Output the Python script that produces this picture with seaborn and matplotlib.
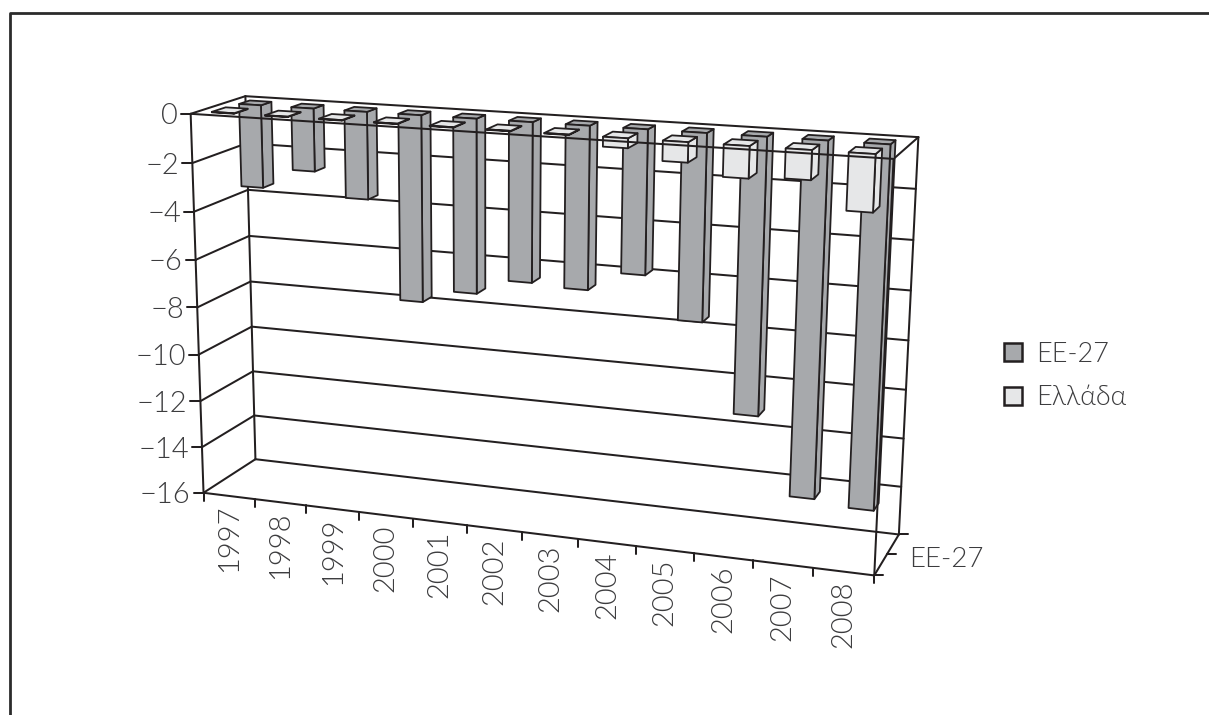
import numpy as np
import pandas as pd
import matplotlib
matplotlib.use("Agg")
import matplotlib.pyplot as plt
from matplotlib.patches import Polygon, Patch
import seaborn as sns

# ─────────────────────────────────────────
# DATA
# ─────────────────────────────────────────
years = [1997, 1998, 1999, 2000, 2001, 2002, 2003, 2004, 2005, 2006, 2007, 2008]
ee27 = [-3.44, -2.6, -3.6, -7.7, -7.15, -6.5, -6.6, -5.8, -7.5, -11.1, -14.25, -14.45]
greece = [-0.02, -0.02, -0.02, -0.02, -0.02, -0.02, -0.02, -0.38, -0.78, -1.23, -1.13, -2.18]
value_ticks = [0, -2, -4, -6, -8, -10, -12, -14, -16]
series_names = ["EE-27", "Ελλάδα"]

LINE = "#231f20"
TEXT = "#3c3c3e"
COLORS = ["#a7a9ac", "#e6e7e8"]
DEPTHS = [(0.60, 0.80), (0.15, 0.40)]
U_SHIFT = [0.0, -0.05]

sns.set_theme(style="white")
plt.rcParams["font.family"] = ["Lato", "Open Sans", "DejaVu Sans"]
plt.rcParams["font.weight"] = 300
plt.rcParams["axes.unicode_minus"] = True

# ─────────────────────────────────────────
# CAMERA: fit a perspective matrix to the box of the chart
# (u = category axis, v = value axis, w = depth) -> page pixels
# ─────────────────────────────────────────
anchors = [
    (0, 0, 0, 190, 114), (12, 0, 0, 895, 159), (0, -16, 0, 204, 493), (12, -16, 0, 873, 575),
    (0, 0, 1, 246, 96), (12, 0, 1, 917, 137), (0, -16, 1, 255, 459), (12, -16, 1, 900, 535),
    (3, -16, 0, 359, 512), (6, -16, 0, 522, 532), (9, -16, 0, 694, 553),
]
rows = []
for u, v, w, x, y in anchors:
    rows.append([u, v, w, 1, 0, 0, 0, 0, -x * u, -x * v, -x * w, -x])
    rows.append([0, 0, 0, 0, u, v, w, 1, -y * u, -y * v, -y * w, -y])
camera = np.linalg.svd(np.array(rows, dtype=float))[2][-1].reshape(3, 4)


def project(u, v, w):
    x, y, z = camera @ np.array([u, v, w, 1.0])
    return x / z, y / z


fig = plt.figure(figsize=(12.09, 7.15), dpi=100)
ax = fig.add_axes([0, 0, 1, 1])
ax.set_xlim(0, 1209)
ax.set_ylim(715, 0)
ax.set_axis_off()


def seg(p, q, zorder=2):
    ax.plot([p[0], q[0]], [p[1], q[1]], color=LINE, lw=1.45, zorder=zorder, solid_capstyle="round")


# page frame
ax.plot([9.5, 9.5, 1209], [715, 12.5, 12.5], color="#2b2b2b", lw=2.0, zorder=1)

# ─────────────────────────────────────────
# WALLS AND GRID
# ─────────────────────────────────────────
for v in value_ticks:
    seg(project(0, v, 0), project(0, v, 1))
    seg(project(0, v, 1), project(12, v, 1))
seg(project(0, 0, 0), project(0, -16, 0))
seg(project(0, 0, 1), project(0, -16, 1))
seg(project(12, 0, 1), project(12, -16, 1))
seg(project(12, 0, 0), project(12, 0, 1))
seg(project(12, -16, 0), project(12, -16, 1))

for v in value_ticks:
    x, y = project(0, v, 0)
    seg((x - 10, y), (x, y))
    ax.text(x - 13, y, f"{v}".replace("-", "\u2212"), ha="right", va="center_baseline",
            fontsize=21, color=TEXT)

for i in range(len(years) + 1):
    x, y = project(i, -16, 0)
    seg((x, y), (x, y + 8))
for i, year in enumerate(years):
    x, y = project(i + 0.5, -16, 0)
    ax.text(x, y + 9, str(year), rotation=90, ha="center", va="top", fontsize=21, color=TEXT)

for w in [0, 0.5, 1]:
    x, y = project(12, -16, w)
    seg((x, y), (x + 9, y))
x, y = project(12, -16, 0.5)
ax.text(x + 22, y + 5, "EE-27", ha="left", va="center", fontsize=20, color=TEXT)

# ─────────────────────────────────────────
# BARS: seaborn lays them out, then each one is extruded along the depth axis
# ─────────────────────────────────────────
df = pd.DataFrame({
    "year": [str(y) for y in years] * 2,
    "value": ee27 + greece,
    "series": [series_names[0]] * len(years) + [series_names[1]] * len(years),
})
helper = fig.add_axes([0, 0, 1, 1])
sns.barplot(data=df, x="year", y="value", hue="series", dodge=False, width=0.42,
            palette=COLORS, legend=False, ax=helper)

for s, container in enumerate(helper.containers):
    w0, w1 = DEPTHS[s]
    for rect in container:
        # category i is centred on i, the box axis on i + 0.5
        u0 = rect.get_x() + 0.5 + U_SHIFT[s]
        u1 = u0 + rect.get_width()
        top = rect.get_y()
        bottom = top + rect.get_height()
        front = [project(u0, top, w0), project(u1, top, w0), project(u1, bottom, w0), project(u0, bottom, w0)]
        side = [project(u1, top, w0), project(u1, top, w1), project(u1, bottom, w1), project(u1, bottom, w0)]
        cap = [project(u0, top, w0), project(u0, top, w1), project(u1, top, w1), project(u1, top, w0)]
        for face in (side, cap, front):
            ax.add_patch(Polygon(face, closed=True, facecolor=COLORS[s], edgecolor=LINE,
                                 lw=1.3, joinstyle="round", zorder=3 + s))
fig.delaxes(helper)

# front edges of the box stay on top of the bars
seg(project(0, 0, 0), project(12, 0, 0), zorder=6)
seg(project(12, 0, 0), project(12, -16, 0), zorder=6)
seg(project(0, -16, 0), project(12, -16, 0), zorder=6)

# ─────────────────────────────────────────
# LEGEND
# ─────────────────────────────────────────
handles = [Patch(facecolor=c, edgecolor=LINE, lw=1.8, label=n) for c, n in zip(COLORS, series_names)]
ax.legend(handles=handles, loc="center left", bbox_to_anchor=(1004 / 1209, 1 - 376 / 715),
          frameon=False, fontsize=19.5, labelcolor=TEXT, handlelength=0.67, handleheight=0.67,
          handletextpad=0.5, labelspacing=0.7, borderpad=0, borderaxespad=0)

fig.savefig("out.png", dpi=100, facecolor="white")
plt.close(fig)
